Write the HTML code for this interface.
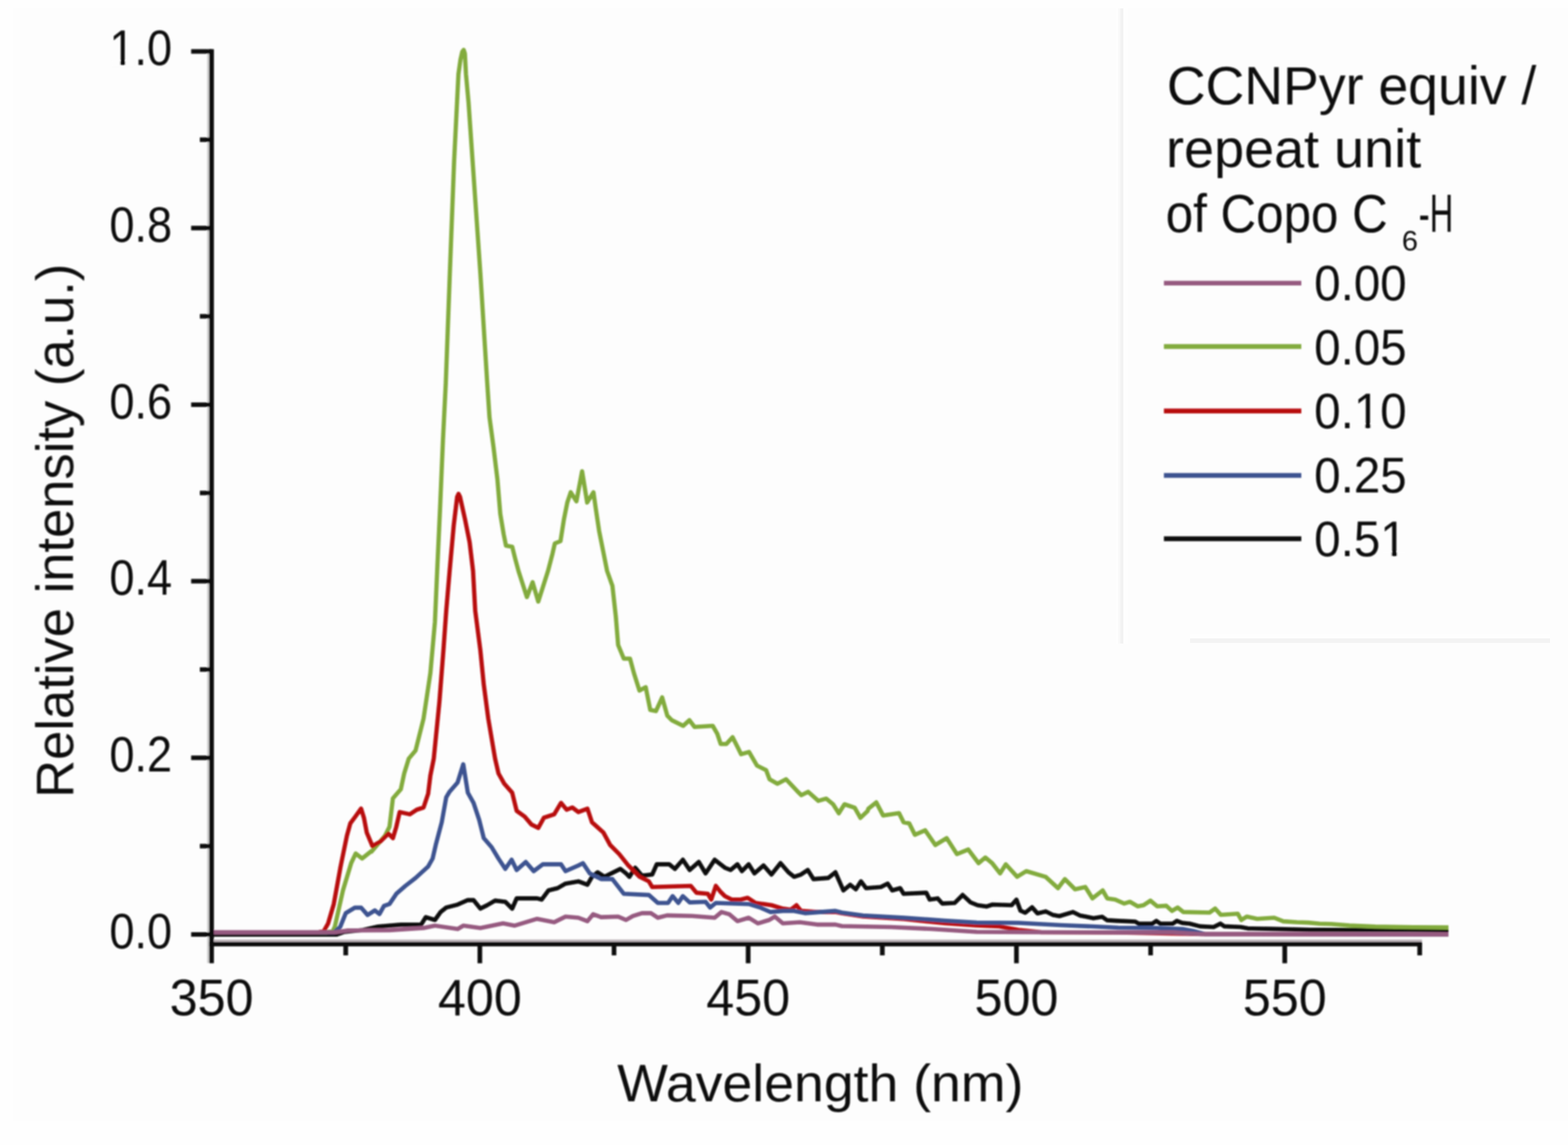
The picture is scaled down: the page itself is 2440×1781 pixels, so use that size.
<!DOCTYPE html>
<html lang="en"><head><meta charset="utf-8"><title>Relative intensity vs wavelength</title>
<style>
html,body{margin:0;padding:0;background:#fefefe;}
body{width:2440px;height:1781px;overflow:hidden;}
svg{display:block;}
text{font-family:"Liberation Sans", sans-serif;fill:#0b0b0b;}
</style></head><body>
<svg width="2440" height="1781" viewBox="0 0 2440 1781">
<defs><filter id="soft" x="-2%" y="-2%" width="104%" height="104%"><feGaussianBlur stdDeviation="1.1"/></filter></defs>
<rect x="0" y="0" width="2440" height="1781" fill="#fefefe"/>
<rect x="21" y="13" width="2419" height="1730" fill="#fdfdfd"/>
<rect x="1736" y="13" width="20" height="988" fill="#fefefe"/>
<rect x="1740" y="13" width="4" height="988" fill="#f9f9f9"/>
<rect x="1743.6" y="13" width="4.4" height="988" fill="#f2f2f2"/>
<rect x="1852" y="986" width="560" height="7" fill="#fefefe"/>
<rect x="1852" y="993" width="560" height="7" fill="#f3f3f3"/>
<g filter="url(#soft)">
<g fill="none" stroke-linejoin="round" stroke-linecap="butt">
<polyline stroke="#0a0a0a" stroke-width="6.6" points="329.0,1453.7 524.0,1453.7 536.0,1449.5 565.0,1446.5 588.4,1441.2 623.7,1438.4 655.5,1438.1 662.6,1426.6 676.8,1431.0 685.6,1418.6 694.4,1411.6 712.1,1407.1 728.0,1400.1 736.9,1400.1 747.5,1413.3 758.1,1408.0 770.4,1400.9 786.3,1402.7 797.0,1413.3 804.0,1397.4 835.8,1397.4 842.9,1399.2 853.5,1385.0 867.7,1381.5 880.0,1374.4 900.0,1370.9 914.1,1376.2 921.2,1363.8 930.0,1356.8 940.7,1363.8 965.4,1351.5 974.2,1358.5 979.5,1363.8 988.4,1349.7 999.0,1362.1 1014.9,1360.3 1022.0,1344.4 1041.4,1344.4 1050.2,1351.5 1062.6,1337.3 1073.2,1353.2 1087.4,1340.8 1098.0,1358.5 1112.1,1337.3 1128.0,1349.7 1136.9,1353.2 1147.5,1344.4 1154.5,1355.0 1165.1,1344.4 1174.0,1358.5 1188.1,1346.2 1200.5,1360.3 1214.6,1342.6 1227.0,1356.8 1235.8,1363.8 1246.4,1360.3 1257.0,1353.2 1265.9,1367.4 1288.9,1365.6 1300.0,1356.8 1312.4,1385.0 1323.0,1376.2 1331.8,1383.3 1339.8,1370.9 1347.7,1381.5 1370.7,1379.7 1381.3,1374.4 1388.4,1385.0 1400.8,1381.5 1406.1,1390.3 1441.4,1388.6 1446.7,1399.2 1459.1,1397.4 1466.2,1405.4 1485.6,1404.5 1498.0,1392.1 1510.6,1403.8 1521.2,1408.0 1535.0,1410.1 1544.5,1407.0 1574.2,1408.0 1581.7,1399.5 1588.0,1416.5 1595.4,1419.7 1606.0,1411.2 1614.5,1420.8 1627.3,1417.6 1637.9,1422.9 1648.5,1425.0 1669.7,1418.6 1680.3,1423.9 1690.9,1426.1 1701.5,1428.2 1715.3,1426.1 1722.7,1431.4 1740.0,1432.4 1766.5,1433.5 1771.8,1436.7 1793.0,1436.7 1799.4,1432.4 1805.7,1436.7 1824.8,1436.7 1831.2,1432.4 1839.7,1435.6 1851.3,1436.7 1867.3,1440.9 1888.5,1442.0 1899.1,1436.7 1905.4,1440.9 1930.9,1442.0 1941.5,1444.1 1980.0,1444.9 2040.0,1446.3 2254.0,1446.6"/>
<polyline stroke="#82ab3e" stroke-width="6.6" points="329.0,1450.2 508.0,1450.2 518.0,1448.0 521.0,1441.6 533.7,1385.0 546.5,1342.5 553.5,1327.6 563.5,1335.4 577.6,1324.1 578.0,1324.9 588.4,1312.6 599.0,1300.2 606.1,1286.1 611.4,1241.9 623.7,1227.7 629.0,1203.0 636.1,1180.0 646.7,1167.3 659.1,1117.8 669.7,1047.1 676.8,967.5 680.3,888.0 684.8,790.4 689.3,684.4 693.7,596.0 700.0,425.0 706.6,252.2 713.4,115.2 716.5,93.1 719.4,80.3 721.6,77.7 723.4,83.2 725.1,115.2 729.1,159.4 736.0,258.9 747.5,425.0 758.2,596.0 761.7,649.0 767.9,695.0 774.1,746.2 778.5,799.3 783.8,831.1 787.4,848.8 797.1,850.5 801.5,868.2 806.8,888.0 819.9,928.7 828.8,905.7 837.6,935.7 852.8,888.0 859.8,861.1 863.4,845.2 872.2,841.7 877.5,808.1 882.8,781.6 888.1,765.7 897.0,779.8 905.8,733.0 913.7,781.6 923.5,765.7 927.0,790.4 932.3,825.8 937.6,852.3 944.7,888.0 953.0,911.4 958.3,959.1 961.9,1003.3 970.7,1024.5 980.4,1024.5 986.6,1047.5 995.1,1074.2 1004.8,1068.9 1011.9,1104.3 1020.7,1106.1 1030.4,1084.8 1038.4,1113.1 1045.4,1120.2 1063.1,1129.0 1072.8,1120.2 1080.8,1130.8 1109.1,1129.0 1116.2,1141.4 1121.5,1157.3 1130.3,1157.3 1140.0,1146.7 1148.0,1162.6 1153.3,1173.2 1165.6,1169.7 1178.0,1190.9 1192.2,1198.0 1197.5,1212.1 1209.8,1219.2 1223.1,1212.1 1239.9,1229.8 1247.0,1236.9 1257.6,1231.6 1273.5,1245.7 1285.8,1242.2 1296.4,1251.0 1305.3,1265.1 1314.1,1251.0 1330.0,1256.3 1338.9,1272.2 1350.0,1261.6 1351.3,1257.8 1363.6,1248.1 1374.2,1268.4 1399.0,1264.8 1406.1,1279.0 1414.9,1280.8 1423.7,1298.4 1439.6,1291.4 1455.5,1314.3 1473.2,1303.7 1489.1,1328.5 1506.8,1321.4 1522.7,1342.6 1533.3,1333.8 1543.9,1342.6 1556.3,1358.5 1565.1,1344.4 1582.8,1363.8 1597.0,1355.0 1627.0,1363.8 1646.4,1381.5 1657.0,1367.4 1673.0,1383.3 1688.9,1379.7 1700.0,1397.4 1715.9,1385.0 1723.0,1397.4 1735.4,1399.2 1749.5,1405.4 1758.3,1402.7 1770.7,1409.8 1779.5,1408.0 1790.1,1400.9 1800.8,1409.8 1814.9,1408.9 1823.7,1416.9 1832.6,1411.6 1841.4,1418.6 1882.1,1419.5 1890.9,1413.3 1899.7,1423.0 1926.2,1421.3 1931.6,1431.0 1940.4,1425.7 1956.3,1429.2 1982.8,1427.5 1997.0,1433.1 2018.2,1434.5 2035.8,1435.1 2053.5,1436.7 2071.2,1437.2 2100.0,1439.5 2140.0,1441.3 2200.0,1442.3 2254.0,1442.6"/>
<polyline stroke="#b80a10" stroke-width="6.6" points="329.0,1450.2 496.0,1450.2 504.0,1448.0 510.6,1436.3 519.4,1406.2 530.0,1347.9 539.8,1300.2 545.1,1280.8 553.0,1270.1 561.9,1257.8 566.3,1271.9 570.7,1294.9 579.5,1316.1 591.9,1309.0 604.3,1296.7 611.4,1303.7 616.7,1286.1 622.0,1263.1 637.9,1266.6 648.5,1259.5 659.1,1256.0 666.2,1234.8 669.7,1206.5 675.0,1180.0 683.8,1091.3 690.0,1011.7 694.4,949.9 699.7,888.0 706.1,816.9 711.4,772.8 713.5,768.3 715.8,772.8 723.7,808.1 730.8,843.5 736.1,888.0 739.5,949.9 747.5,1011.7 752.8,1064.8 759.8,1117.8 770.4,1180.0 775.7,1203.0 784.6,1218.9 797.0,1233.0 804.0,1261.3 816.4,1270.1 827.0,1282.5 837.6,1287.8 846.4,1271.9 862.4,1266.6 873.0,1248.9 881.8,1259.5 890.6,1256.0 900.0,1263.1 914.1,1257.8 921.2,1279.0 938.9,1294.9 949.5,1314.3 963.6,1328.5 977.8,1346.2 995.4,1363.8 1009.6,1370.9 1014.9,1379.7 1075.0,1378.0 1083.8,1388.6 1101.5,1390.3 1106.8,1399.2 1113.9,1378.0 1120.9,1386.8 1128.0,1393.9 1138.6,1399.2 1152.8,1399.2 1163.4,1396.5 1175.7,1404.5 1200.5,1408.0 1218.2,1413.3 1230.5,1415.1 1239.4,1408.0 1246.4,1416.9 1271.2,1418.6 1300.0,1418.6 1310.0,1420.5 1343.0,1425.5 1407.0,1429.5 1440.0,1433.0 1470.0,1436.0 1520.0,1439.5 1555.0,1441.0 1585.0,1446.5 1620.0,1450.0 1740.0,1450.4 1870.0,1453.0 2254.0,1453.3"/>
<polyline stroke="#3c5390" stroke-width="6.6" points="329.0,1450.2 520.0,1450.2 529.5,1441.6 538.0,1420.4 552.1,1411.9 562.0,1411.9 572.0,1423.2 583.3,1416.1 590.4,1421.8 597.5,1409.1 606.1,1406.2 616.7,1390.3 630.8,1378.0 646.7,1365.6 666.2,1347.9 673.2,1335.5 678.5,1312.6 687.4,1279.0 694.4,1240.1 699.7,1231.3 712.1,1217.1 720.9,1188.8 728.0,1233.0 736.9,1248.9 745.7,1275.4 752.8,1303.7 765.1,1317.9 775.7,1335.5 786.3,1351.5 796.1,1337.3 804.0,1353.2 818.2,1340.8 830.5,1355.0 844.7,1344.4 873.0,1344.4 880.0,1355.0 900.0,1346.2 907.1,1342.6 917.7,1358.5 935.4,1367.4 953.0,1367.4 970.7,1390.3 1009.6,1392.1 1023.7,1404.5 1039.6,1404.5 1046.7,1393.9 1055.5,1404.5 1062.6,1393.9 1073.2,1403.6 1098.0,1402.7 1105.0,1411.6 1113.9,1404.5 1165.1,1406.2 1182.8,1411.6 1198.7,1418.6 1218.2,1416.9 1235.8,1416.9 1253.5,1420.4 1300.0,1416.9 1310.0,1419.5 1343.0,1424.0 1407.0,1427.6 1470.0,1432.0 1520.0,1435.0 1585.0,1435.5 1650.0,1439.0 1700.0,1441.0 1740.0,1443.0 1800.0,1443.5 1840.0,1445.0 1856.0,1448.0 1875.0,1453.0 2254.0,1453.3"/>
<polyline stroke="#965a80" stroke-width="6.6" points="329.0,1450.0 522.0,1450.0 540.0,1447.4 553.0,1447.3 606.1,1446.9 659.1,1443.4 676.8,1439.8 712.1,1445.1 720.9,1439.8 747.5,1443.4 782.8,1436.3 800.5,1439.8 835.8,1429.2 862.4,1434.5 880.0,1425.7 900.0,1427.5 914.1,1432.8 923.0,1422.2 935.4,1426.6 961.9,1425.7 974.2,1431.0 984.8,1424.8 999.0,1420.4 1013.1,1420.4 1023.7,1427.5 1037.9,1423.9 1076.8,1424.8 1112.1,1427.5 1122.7,1418.6 1135.1,1422.2 1147.5,1432.8 1165.1,1427.5 1179.3,1436.3 1197.0,1431.0 1205.8,1425.7 1218.2,1436.3 1244.7,1434.5 1271.2,1438.1 1300.0,1438.1 1310.0,1440.5 1386.0,1442.0 1450.0,1445.0 1520.0,1449.5 1600.0,1450.0 1740.0,1450.4 1825.0,1450.4 1870.0,1453.0 2254.0,1453.3"/>
</g>
<g stroke="#080808" stroke-width="7.2" fill="none" stroke-linecap="butt">
<line x1="324" y1="76.5" x2="324" y2="1498" stroke="#c9c9c9" stroke-width="3"/>
<line x1="333" y1="1463.2" x2="2212.8" y2="1463.2" stroke="#b9b0b6" stroke-width="3.4"/>
<line x1="329.2" y1="76.5" x2="329.2" y2="1498.3"/>
<line x1="325.6" y1="1468.5" x2="2212.8" y2="1468.5"/>
<line x1="297.5" y1="80.0" x2="329.2" y2="80.0" stroke-width="7"/>
<line x1="297.5" y1="354.7" x2="329.2" y2="354.7" stroke-width="7"/>
<line x1="297.5" y1="629.4" x2="329.2" y2="629.4" stroke-width="7"/>
<line x1="297.5" y1="904.1" x2="329.2" y2="904.1" stroke-width="7"/>
<line x1="297.5" y1="1178.8" x2="329.2" y2="1178.8" stroke-width="7"/>
<line x1="297.5" y1="1453.5" x2="329.2" y2="1453.5" stroke-width="7"/>
<line x1="311" y1="217.3" x2="329.2" y2="217.3" stroke-width="7"/>
<line x1="311" y1="492.0" x2="329.2" y2="492.0" stroke-width="7"/>
<line x1="311" y1="766.8" x2="329.2" y2="766.8" stroke-width="7"/>
<line x1="311" y1="1041.4" x2="329.2" y2="1041.4" stroke-width="7"/>
<line x1="311" y1="1316.1" x2="329.2" y2="1316.1" stroke-width="7"/>
<line x1="746.7" y1="1468.5" x2="746.7" y2="1498.3"/>
<line x1="1164.2" y1="1468.5" x2="1164.2" y2="1498.3"/>
<line x1="1581.7" y1="1468.5" x2="1581.7" y2="1498.3"/>
<line x1="1999.2" y1="1468.5" x2="1999.2" y2="1498.3"/>
<line x1="538.0" y1="1468.5" x2="538.0" y2="1486"/>
<line x1="955.5" y1="1468.5" x2="955.5" y2="1486"/>
<line x1="1373.0" y1="1468.5" x2="1373.0" y2="1486"/>
<line x1="1790.5" y1="1468.5" x2="1790.5" y2="1486"/>
<line x1="2209.2" y1="1468.5" x2="2209.2" y2="1486"/>
</g>
<g fill="none" stroke-width="7.4">
<line x1="1811.2" y1="440.4" x2="2025" y2="440.4" stroke="#965a80"/>
<line x1="1811.2" y1="539" x2="2025" y2="539" stroke="#82ab3e"/>
<line x1="1811.2" y1="639.2" x2="2025" y2="639.2" stroke="#b80a10"/>
<line x1="1811.2" y1="739.5" x2="2025" y2="739.5" stroke="#3c5390"/>
<line x1="1811.2" y1="838" x2="2025" y2="838" stroke="#0a0a0a"/>
</g>
<text x="170.3" y="101.2" font-size="78" textLength="97.5" lengthAdjust="spacingAndGlyphs">1.0</text>
<text x="170.3" y="375.9" font-size="78" textLength="97.5" lengthAdjust="spacingAndGlyphs">0.8</text>
<text x="170.3" y="650.6" font-size="78" textLength="97.5" lengthAdjust="spacingAndGlyphs">0.6</text>
<text x="170.3" y="925.3" font-size="78" textLength="97.5" lengthAdjust="spacingAndGlyphs">0.4</text>
<text x="170.3" y="1200.0" font-size="78" textLength="97.5" lengthAdjust="spacingAndGlyphs">0.2</text>
<text x="170.3" y="1474.7" font-size="78" textLength="97.5" lengthAdjust="spacingAndGlyphs">0.0</text>
<text x="329.2" y="1578.5" font-size="80" text-anchor="middle" textLength="130.5" lengthAdjust="spacingAndGlyphs">350</text>
<text x="746.7" y="1578.5" font-size="80" text-anchor="middle" textLength="130.5" lengthAdjust="spacingAndGlyphs">400</text>
<text x="1164.2" y="1578.5" font-size="80" text-anchor="middle" textLength="130.5" lengthAdjust="spacingAndGlyphs">450</text>
<text x="1581.7" y="1578.5" font-size="80" text-anchor="middle" textLength="130.5" lengthAdjust="spacingAndGlyphs">500</text>
<text x="1999.2" y="1578.5" font-size="80" text-anchor="middle" textLength="130.5" lengthAdjust="spacingAndGlyphs">550</text>
<text x="960.5" y="1713" font-size="82" textLength="632" lengthAdjust="spacingAndGlyphs">Wavelength (nm)</text>
<text transform="translate(113.5,1241) rotate(-90)" font-size="82" textLength="831" lengthAdjust="spacingAndGlyphs">Relative intensity (a.u.)</text>
<text x="1815.8" y="161.5" font-size="83" textLength="575" lengthAdjust="spacingAndGlyphs">CCNPyr equiv /</text>
<text x="1814.5" y="260" font-size="83" textLength="397" lengthAdjust="spacingAndGlyphs">repeat unit</text>
<text x="1814" y="360.5" font-size="83" textLength="345.5" lengthAdjust="spacingAndGlyphs">of Copo C</text>
<text x="2181.4" y="390.3" font-size="45">6</text>
<text x="2207.7" y="360.5" font-size="83" textLength="53.7" lengthAdjust="spacingAndGlyphs">-H</text>
<text x="2045" y="467" font-size="78" textLength="144" lengthAdjust="spacingAndGlyphs">0.00</text>
<text x="2045" y="566.5" font-size="78" textLength="144" lengthAdjust="spacingAndGlyphs">0.05</text>
<text x="2045" y="666" font-size="78" textLength="144" lengthAdjust="spacingAndGlyphs">0.10</text>
<text x="2045" y="765.5" font-size="78" textLength="144" lengthAdjust="spacingAndGlyphs">0.25</text>
<text x="2045" y="865" font-size="78" textLength="144" lengthAdjust="spacingAndGlyphs">0.51</text>
<rect x="172.5" y="94.8" width="14.5" height="8.9" fill="#fdfdfd"/>
<rect x="195.0" y="94.8" width="14.0" height="8.9" fill="#fdfdfd"/>
<rect x="2109.5" y="659.6" width="14.9" height="8.9" fill="#fdfdfd"/>
<rect x="2132.7" y="659.6" width="14.3" height="8.9" fill="#fdfdfd"/>
<rect x="2150.5" y="858.6" width="15.1" height="8.9" fill="#fdfdfd"/>
<rect x="2173.9" y="858.6" width="14.6" height="8.9" fill="#fdfdfd"/>
</g>
</svg>
</body></html>
